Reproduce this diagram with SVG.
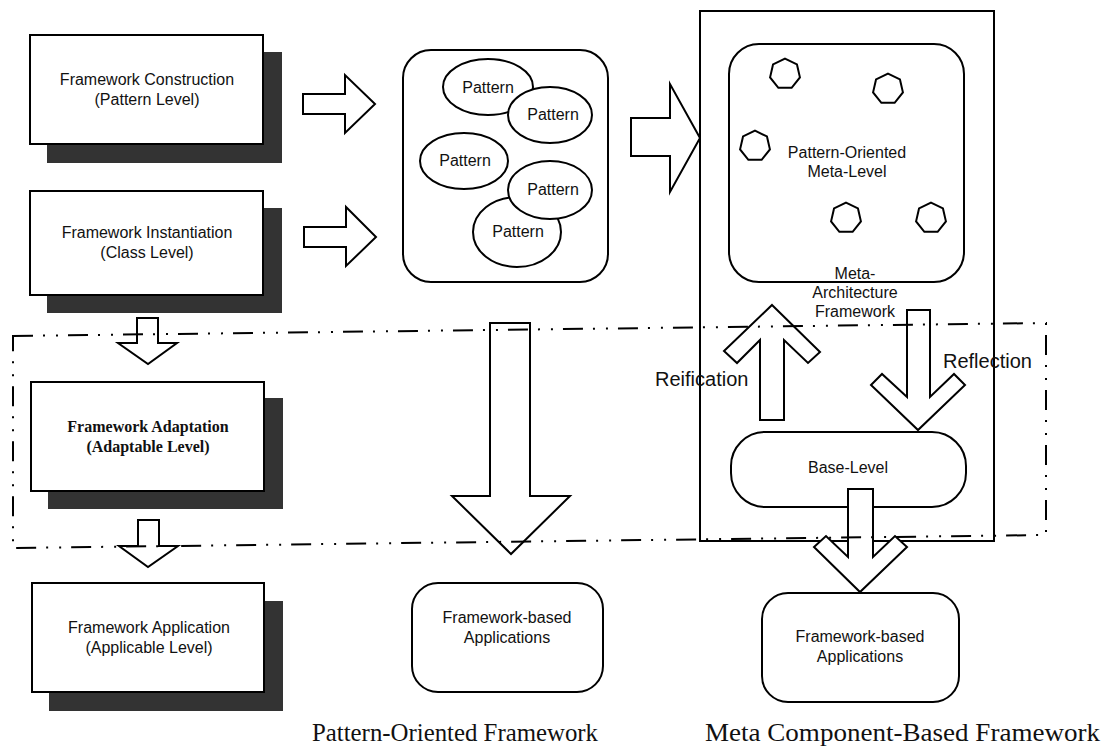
<svg xmlns="http://www.w3.org/2000/svg" width="1104" height="746" viewBox="0 0 1104 746">
  <style>
    .box { fill: #fff; stroke: #000; stroke-width: 2; }
    .shadow { fill: #333; }
    .line { fill: #fff; stroke: #000; stroke-width: 2; stroke-linejoin: miter; }
    .thin { fill: none; stroke: #000; stroke-width: 2; }
    .ell { fill: #fff; stroke: #000; stroke-width: 2; }
    .hep { fill: #fff; stroke: #000; stroke-width: 2; }
    .lbl { font-family: "Liberation Sans", Arial, sans-serif; font-size: 16px; fill: #111; text-anchor: middle; }
    .lblb { font-family: "Liberation Serif", "Times New Roman", serif; font-size: 16px; font-weight: bold; fill: #111; text-anchor: middle; }
    .big { font-family: "Liberation Sans", Arial, sans-serif; font-size: 20px; fill: #111; }
    .cap { font-family: "Liberation Serif", "Times New Roman", serif; font-size: 25px; fill: #111; }
    .dashdot { fill: none; stroke: #000; stroke-width: 2; stroke-dasharray: 20 10 2 11 2 10; }
  </style>
  <defs>
    <polygon id="hept" class="hep" points="0,-15.3 11.96,-9.54 14.92,3.4 6.64,13.79 -6.64,13.79 -14.92,3.4 -11.96,-9.54"/>
  </defs>

  <!-- Level boxes with drop shadows -->
  <g id="construction">
    <rect class="shadow" x="47" y="52" width="235" height="111"/>
    <rect class="box" x="30" y="35" width="233" height="109"/>
    <text class="lbl" x="147" y="85">Framework Construction</text>
    <text class="lbl" x="147" y="105">(Pattern Level)</text>
  </g>
  <g id="instantiation">
    <rect class="shadow" x="47" y="208" width="235" height="105"/>
    <rect class="box" x="30" y="191" width="233" height="104"/>
    <text class="lbl" x="147" y="238">Framework Instantiation</text>
    <text class="lbl" x="147" y="258">(Class Level)</text>
  </g>
  <g id="adaptation">
    <rect class="shadow" x="48" y="398" width="235" height="111"/>
    <rect class="box" x="31" y="382" width="233" height="109"/>
    <text class="lblb" x="148" y="432">Framework Adaptation</text>
    <text class="lblb" x="148" y="452">(Adaptable Level)</text>
  </g>
  <g id="application">
    <rect class="shadow" x="49" y="601" width="234" height="110"/>
    <rect class="box" x="32" y="583" width="232" height="109"/>
    <text class="lbl" x="149" y="633">Framework Application</text>
    <text class="lbl" x="149" y="653">(Applicable Level)</text>
  </g>

  <!-- Pattern-oriented framework -->
  <g id="pattern-framework">
    <rect class="box" x="403" y="50" width="205" height="232" rx="28" ry="28"/>
    <ellipse class="ell" cx="488" cy="87" rx="45" ry="28"/>
    <text class="lbl" x="488" y="93">Pattern</text>
    <ellipse class="ell" cx="550" cy="115" rx="42" ry="28"/>
    <text class="lbl" x="553" y="120">Pattern</text>
    <ellipse class="ell" cx="464" cy="161" rx="44" ry="28"/>
    <text class="lbl" x="465" y="166">Pattern</text>
    <ellipse class="ell" cx="517" cy="232" rx="44" ry="35"/>
    <text class="lbl" x="518" y="237">Pattern</text>
    <ellipse class="ell" cx="550" cy="190" rx="42" ry="29"/>
    <text class="lbl" x="553" y="195">Pattern</text>
  </g>

  <g id="framework-apps-1">
    <rect class="box" x="412" y="583" width="191" height="109" rx="26" ry="26"/>
    <text class="lbl" x="507" y="623">Framework-based</text>
    <text class="lbl" x="507" y="643">Applications</text>
  </g>

  <!-- Meta component-based framework -->
  <g id="meta-framework">
    <rect class="thin" x="700" y="11" width="294" height="530"/>
  </g>
  <g id="meta-level">
    <rect class="box" x="729" y="44" width="235" height="238" rx="30" ry="30"/>
    <use href="#hept" x="785" y="74"/>
    <use href="#hept" x="888" y="89"/>
    <use href="#hept" x="755" y="146"/>
    <use href="#hept" x="846" y="218"/>
    <use href="#hept" x="931" y="218"/>
    <text class="lbl" x="847" y="158">Pattern-Oriented</text>
    <text class="lbl" x="847" y="177">Meta-Level</text>
  </g>
  <g id="meta-architecture-label">
    <text class="lbl" x="855" y="279">Meta-</text>
    <text class="lbl" x="855" y="298">Architecture</text>
    <text class="lbl" x="855" y="317">Framework</text>
  </g>
  <g id="base-level">
    <rect class="box" x="731" y="432" width="235" height="75" rx="34" ry="34"/>
    <text class="lbl" x="848" y="473">Base-Level</text>
  </g>
  <g id="framework-apps-2">
    <rect class="box" x="762" y="593" width="197" height="109" rx="26" ry="26"/>
    <text class="lbl" x="860" y="642">Framework-based</text>
    <text class="lbl" x="860" y="662">Applications</text>
  </g>

  <!-- Block arrows -->
  <g id="connectors">
    <polygon class="line" points="303,94 345,94 345,75 375,104 345,133 345,114 303,114"/>
    <polygon class="line" points="304,227 346,227 346,207 376,237 346,266 346,247 304,247"/>
    <polygon class="line" points="631,118 670,118 670,84 700,138 670,192 670,156 631,156"/>
    <polygon class="line" points="137,318 158,318 158,343 177,343 148,364 118,343 137,343"/>
    <polygon class="line" points="138,520 159,520 159,546 178,546 148,567 119,546 138,546"/>
    <polygon class="line" points="490,323 530,323 530,496 570,496 511,554 452,496 490,496"/>
    <!-- reification (up) -->
    <polygon class="line" points="772,305 820,352 808,363 784,340 784,420 760,420 760,340 737,363 724,351"/>
    <!-- reflection (down) -->
    <polygon class="line" points="907,310 930,310 930,397 954,374 965,385 918,430 871,385 882,374 907,397"/>
    <!-- base level to applications -->
    <polygon class="line" points="848,489 873,489 873,557 895,536 907,547 860,592 814,547 826,536 848,557"/>
  </g>

  <!-- Adaptation zone boundary -->
  <g id="zone">
    <polygon class="dashdot" points="13,336 1046,323 1046,535 13,548"/>
  </g>

  <g id="labels">
    <text class="big" x="655" y="386">Reification</text>
    <text class="big" x="943" y="368">Reflection</text>
    <text class="cap" x="312" y="741" textLength="286" lengthAdjust="spacingAndGlyphs">Pattern-Oriented Framework</text>
    <text class="cap" x="705" y="741" textLength="395" lengthAdjust="spacingAndGlyphs">Meta Component-Based Framework</text>
  </g>
</svg>
